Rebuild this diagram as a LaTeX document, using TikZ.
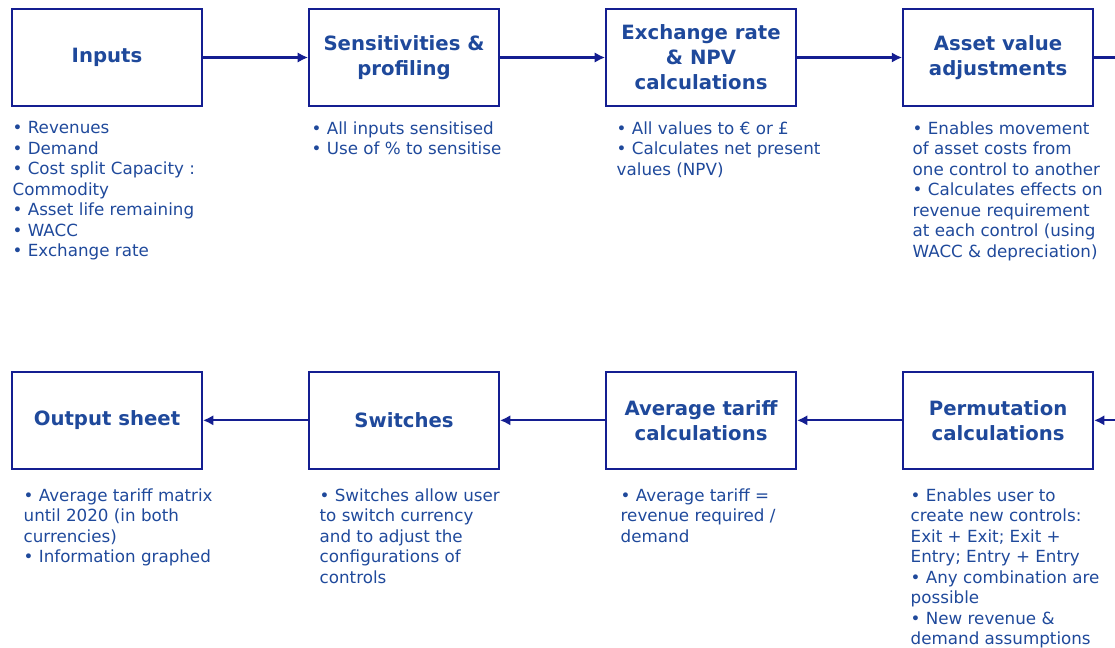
\documentclass[tikz,border=0pt]{standalone}
\usepackage{fontspec}
\setmainfont{DejaVu Sans}
\usetikzlibrary{positioning,arrows.meta}
\definecolor{boxline}{RGB}{20,30,145}
\definecolor{boxtext}{RGB}{31,73,155}

\begin{document}
\begin{tikzpicture}[thick,node distance=2.63cm]
      \tikzstyle{stage}=[rectangle,draw=boxline,line width=1.3pt,minimum width=4.75cm,minimum height=2.425cm,
        inner sep=0pt,align=center,text=boxtext,font=\fontsize{14}{17.8}\selectfont\bfseries]
      \tikzstyle{desc}=[inner sep=0pt,align=left,text=boxtext,font=\fontsize{11.9}{14.6}\selectfont]
      \tikzstyle{link}=[draw=boxline,line width=1.5pt,-{Latex[length=2.6mm,width=2.6mm]}]
      \useasboundingbox (0,0) rectangle (27.875,-16.2);

      % top row
      \node [stage] (inputs) at (2.675,-1.4375) {Inputs};
      \node [stage] (sens) [right=of inputs] {Sensitivities \&\\profiling};
      \node [stage] (npv) [right=of sens] {Exchange rate\\\& NPV\\calculations};
      \node [stage] (asset) [right=of npv] {Asset value\\adjustments};
      % bottom row
      \node [stage] (output) [below=6.6cm of inputs] {Output sheet};
      \node [stage] (switch) [right=of output] {Switches};
      \node [stage] (tariff) [right=of switch] {Average tariff\\calculations};
      \node [stage] (perm) [right=of tariff] {Permutation\\calculations};
      \coordinate (toright) at ([xshift=0.6cm]asset.east);
      \coordinate (fromright) at ([xshift=0.6cm]perm.east);

      % notes
      \node [desc] (inputsd) [below right=0.35cm and 0.025cm of inputs.south west]
        {• Revenues\\• Demand\\• Cost split Capacity :\\Commodity\\• Asset life remaining\\• WACC\\• Exchange rate};
      \node [desc] (sensd) [below right=0.35cm and 0.075cm of sens.south west]
        {• All inputs sensitised\\• Use of \% to sensitise};
      \node [desc] (npvd) [below right=0.35cm and 0.275cm of npv.south west]
        {• All values to € or £\\• Calculates net present\\values (NPV)};
      \node [desc] (assetd) [below right=0.35cm and 0.25cm of asset.south west]
        {• Enables movement\\of asset costs from\\one control to another\\• Calculates effects on\\revenue requirement\\at each control (using\\WACC \& depreciation)};
      \node [desc] (outputd) [below right=0.45cm and 0.3cm of output.south west]
        {• Average tariff matrix\\until 2020 (in both\\currencies)\\• Information graphed};
      \node [desc] (switchd) [below right=0.45cm and 0.275cm of switch.south west]
        {• Switches allow user\\to switch currency\\and to adjust the\\configurations of\\controls};
      \node [desc] (tariffd) [below right=0.45cm and 0.375cm of tariff.south west]
        {• Average tariff =\\revenue required /\\demand};
      \node [desc] (permd) [below right=0.45cm and 0.2cm of perm.south west]
        {• Enables user to\\create new controls:\\Exit + Exit; Exit +\\Entry; Entry + Entry\\• Any combination are\\possible\\• New revenue \&\\demand assumptions};

      \path (inputs) edge [link] (sens)
      (sens) edge [link] (npv)
      (npv) edge [link] (asset)
      (fromright) edge [link] (perm)
      (perm) edge [link] (tariff)
      (tariff) edge [link] (switch)
      (switch) edge [link] (output);
      \draw [link,-] (asset) -- (toright);
    \end{tikzpicture}
\end{document}
